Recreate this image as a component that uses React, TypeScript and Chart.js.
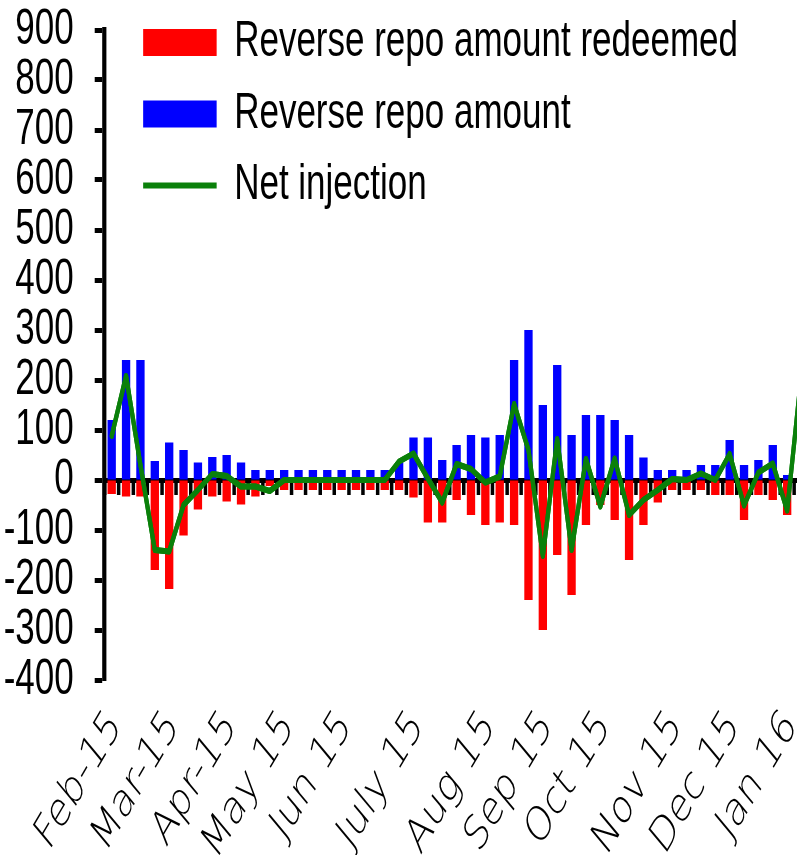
import React, { useEffect, useRef } from 'react';
import { Chart, registerables } from 'chart.js';

Chart.register(...registerables);

// ---------------- data ----------------
const monthLabels = ['Feb-15', 'Mar-15', 'Apr-15', 'May 15', 'Jun 15', 'July 15', 'Aug 15', 'Sep 15', 'Oct 15', 'Nov 15', 'Dec 15', 'Jan 16'];
const monthWeekIndex = [0, 4, 8, 12, 16, 21, 26, 30, 34, 39, 43, 47];
const weekCount = 49;

// Reverse repo amount redeemed (shown negative)
const redeemed = [
  -28, -33, -33, -180, -218, -111, -59, -33, -43, -49, -33, -12,
  -20, -20, -20, -20, -20, -20, -20, -20,
  -20, -35, -85, -85, -40, -70, -90, -85, -90, -240, -300, -150, -230, -90, -50, -80,
  -160, -90, -45, -20, -20, -20, -30, -30, -80, -30, -40, -70, null,
];

// Reverse repo amount
const amount = [
  120, 240, 240, 38, 75, 60, 35, 46, 50, 35, 20, 20,
  20, 20, 20, 20, 20, 20, 20, 20,
  35, 85, 85, 40, 70, 90, 85, 90, 240, 300, 150, 230, 90, 130, 130, 120,
  90, 45, 20, 20, 20, 30, 30, 80, 30, 40, 70, 10, null,
];

// Net injection
const netInjection = [
  88, 208, 30, -140, -143, -50, -20, 12, 8, -13, -13, -22,
  0, 0, 0, 0, 0, 0, 0, 0,
  37, 53, 3, -45, 32, 22, -5, 7, 152, 60, -152, 82, -140, 42, -53, 43,
  -70, -40, -20, 2, 0, 13, 0, 52, -51, 15, 33, -61, 215,
];

const yMin = -400;
const yMax = 900;
const yStep = 100;

const weekLabels = Array.from({ length: weekCount }, (_, i) => {
  const k = monthWeekIndex.indexOf(i);
  return k >= 0 ? monthLabels[k] : '';
});

// ---------------- layout constants ----------------
const SQUEEZE = 0.7; // horizontal compression of the whole drawing
const CANVAS_W = 1200;
const CANVAS_H = 855;
const PLOT_LEFT = 149.3;
const PLOT_RIGHT = 1155.3;

const squeezePlugin = {
  id: 'squeeze',
  beforeDraw(chart: any) {
    chart.ctx.setTransform(SQUEEZE, 0, 0, 1, 0, 0);
  },
  afterDraw(chart: any) {
    // put the net-injection line above the zero axis line
    const meta = chart.getDatasetMeta(2);
    if (meta && meta.controller) meta.controller.draw();
  },
};

const legendPlace = {
  id: 'legendPlace',
  afterLayout(chart: any) {
    const lg = chart.legend;
    if (!lg) return;
    lg.left = 183;
    lg.top = -4;
    lg.right = 183 + 1000;
    lg.bottom = -4 + 300;
  },
};

export default function App() {
  const ref = useRef<HTMLCanvasElement>(null);

  useEffect(() => {
    const canvas = ref.current;
    if (!canvas) return;
    const chart = new Chart(canvas, {
      type: 'bar',
      data: {
        labels: weekLabels,
        datasets: [
          {
            type: 'bar',
            label: 'Reverse repo amount redeemed',
            data: redeemed,
            backgroundColor: '#FF0000',
            borderWidth: 0,
            grouped: false,
            categoryPercentage: 1,
            barPercentage: 0.58,
            order: 1,
          },
          {
            type: 'bar',
            label: 'Reverse repo amount',
            data: amount,
            backgroundColor: '#0000FF',
            borderWidth: 0,
            grouped: false,
            categoryPercentage: 1,
            barPercentage: 0.58,
            order: 1,
          },
          {
            type: 'line',
            label: 'Net injection',
            data: netInjection,
            borderColor: '#0A800A',
            backgroundColor: '#0A800A',
            borderWidth: 6,
            pointRadius: 0,
            tension: 0,
            borderCapStyle: 'round',
            borderJoinStyle: 'round',
            order: 0,
          },
        ] as any,
      },
      options: {
        responsive: false,
        animation: false,
        events: [],
        layout: { padding: { top: 30, right: CANVAS_W - PLOT_RIGHT, bottom: 0, left: 0 } },
        plugins: {
          tooltip: { enabled: false },
          legend: {
            position: 'chartArea' as any,
            align: 'start',
            labels: {
              font: { family: 'Liberation Sans', size: 50 },
              color: '#000000',
              usePointStyle: true,
              pointStyleWidth: 105,
              boxHeight: 27,
              padding: 21.5,
              sort: (a: any, b: any) => a.datasetIndex - b.datasetIndex,
              generateLabels: (ch: any) => {
                const items = (Chart.defaults.plugins.legend.labels as any).generateLabels(ch);
                items.forEach((it: any) => {
                  it.pointStyle = it.datasetIndex === 2 ? 'line' : 'rect';
                });
                return items;
              },
            },
          },
        },
        scales: {
          x: {
            type: 'category',
            position: 'bottom',
            offset: true,
            grid: { display: false, drawTicks: false, offset: true },
            border: { display: false },
            ticks: {
              autoSkip: false,
              maxRotation: 50,
              minRotation: 50,
              font: { family: 'DejaVu Sans', size: 48, weight: '200' },
              color: '#000000',
              padding: 20,
              labelOffset: 6,
            },
            afterFit(s: any) {
              s.height = CANVAS_H - 680;
              s.paddingLeft = 0;
              s.paddingRight = 0;
            },
          },
          x0: {
            type: 'category',
            position: { y: 0 } as any,
            offset: true,
            z: 1,
            grid: {
              offset: true,
              drawOnChartArea: false,
              drawTicks: true,
              tickLength: 12,
              tickWidth: 5,
              tickColor: '#000000',
            },
            border: { display: true, width: 5, color: '#000000' },
            ticks: { display: false },
            afterFit(s: any) {
              s.paddingLeft = 0;
              s.paddingRight = 0;
            },
          },
          y: {
            type: 'linear',
            position: 'left',
            min: yMin,
            max: yMax,
            ticks: {
              stepSize: yStep,
              autoSkip: false,
              font: { family: 'Liberation Sans', size: 50 },
              color: '#000000',
              padding: 30,
            },
            grid: {
              drawOnChartArea: false,
              drawTicks: true,
              tickLength: 14,
              tickWidth: 5,
              tickColor: '#000000',
            },
            border: { width: 6, color: '#000000' },
            afterFit(s: any) {
              s.width = PLOT_LEFT;
              s.paddingTop = 0;
              s.paddingBottom = 0;
            },
          },
        },
      } as any,
      plugins: [squeezePlugin, legendPlace],
    });
    return () => chart.destroy();
  }, []);

  return (
    <div
      style={{
        position: 'fixed',
        left: 0,
        top: 0,
        width: 797,
        height: 855,
        overflow: 'hidden',
        background: '#ffffff',
      }}
    >
      <canvas ref={ref} width={CANVAS_W} height={CANVAS_H} style={{ display: 'block' }} />
    </div>
  );
}
